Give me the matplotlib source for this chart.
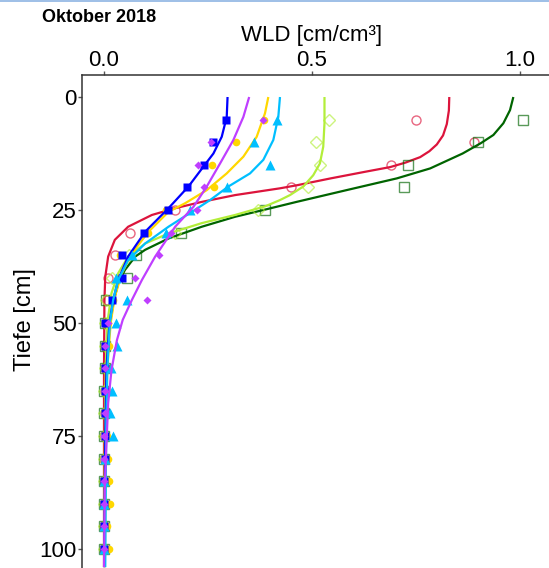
import matplotlib
matplotlib.use("Agg")
import matplotlib.pyplot as plt
from matplotlib.lines import Line2D
import numpy as np

plt.rcParams['font.family'] = ['Liberation Sans', 'DejaVu Sans']

# measured depths (cm)
depth = [5, 10, 15, 20, 25, 30, 35, 40, 45, 50, 55, 60, 65, 70, 75, 80, 85, 90, 95, 100]

# measured WLD per series
red_pts = [0.75, 0.89, 0.69, 0.45, 0.17, 0.063, 0.026, 0.01, 0.007, 0.004, 0.003, 0.002, 0.002, 0.002, 0.001, 0.001, 0.001, 0.001, 0.001, 0.001]
dkgreen_pts = [1.007, 0.90, 0.73, 0.72, 0.387, 0.185, 0.077, 0.055, 0.005, 0.003, 0.002, 0.002, 0.001, 0.001, 0.001, 0.001, 0.001, 0.001, 0.001, 0.001]
ltgreen_pts = [0.54, 0.51, 0.52, 0.49, 0.37, 0.17, 0.06, 0.02, 0.005, 0.003, 0.002, 0.002, 0.001, 0.001, 0.001, 0.001, 0.001, 0.001, 0.001, 0.001]
cyan_pts = [0.415, 0.36, 0.40, 0.295, 0.207, 0.15, 0.067, 0.03, 0.055, 0.03, 0.032, 0.017, 0.02, 0.014, 0.021, 0.002, 0.0, 0.0, 0.0, 0.0]
gold_pts = [0.385, 0.317, 0.26, 0.265, 0.149, 0.106, 0.038, 0.036, 0.022, 0.01, 0.012, 0.008, 0.006, 0.006, 0.006, 0.01, 0.013, 0.014, 0.006, 0.012]
blue_pts = [0.293, 0.262, 0.24, 0.20, 0.153, 0.096, 0.043, 0.043, 0.02, 0.003, 0.003, 0.003, 0.002, 0.002, 0.002, 0.002, 0.001, 0.001, 0.001, 0.001]
purple_pts = [0.383, 0.257, 0.225, 0.24, 0.223, 0.16, 0.132, 0.075, 0.103, 0.01, 0.002, 0.002, 0.003, 0.002, 0.0, 0.001, 0.001, 0.001, 0.0, 0.0]

# fitted curves
red_d = [0, 3, 6, 8.5, 10.5, 12.0, 13.3, 14.5, 15.5, 16.5, 18.0, 19.5, 20.2, 21.7, 23.2, 24.6, 26.1, 28.7, 31.6, 35.3, 39.8, 45, 60, 104]
red_x = [0.830, 0.829, 0.824, 0.815, 0.800, 0.782, 0.760, 0.725, 0.688, 0.630, 0.545, 0.465, 0.423, 0.315, 0.235, 0.171, 0.115, 0.058, 0.026, 0.010, 0.003, 0.001, 0.0, 0.0]
dkg_d = [0, 2.9, 5.8, 8.4, 10.2, 12.5, 15.8, 18.0, 20.6, 23.2, 25, 26.5, 28.7, 31.3, 33.8, 35.3, 38.3, 41.2, 44.9, 50, 60, 75, 104]
dkg_x = [0.984, 0.976, 0.960, 0.936, 0.906, 0.862, 0.784, 0.704, 0.583, 0.463, 0.383, 0.315, 0.235, 0.155, 0.099, 0.075, 0.050, 0.034, 0.024, 0.014, 0.006, 0.003, 0.001]
ltg_d = [0, 5.8, 11, 14.7, 17.3, 19.8, 21.7, 22.8, 24.2, 26.1, 27.9, 30.2, 32.4, 35.3, 39, 43.4, 50, 60, 75, 104]
ltg_x = [0.530, 0.530, 0.527, 0.519, 0.503, 0.479, 0.447, 0.423, 0.387, 0.315, 0.235, 0.155, 0.099, 0.058, 0.034, 0.018, 0.008, 0.004, 0.002, 0.001]
cyan_d = [0, 4.4, 9.5, 13.9, 16.9, 19.8, 22.8, 25.0, 28.7, 32.4, 36.1, 40.5, 44.9, 50, 60, 75, 104]
cyan_x = [0.423, 0.419, 0.407, 0.383, 0.351, 0.299, 0.255, 0.218, 0.155, 0.099, 0.058, 0.034, 0.022, 0.014, 0.008, 0.005, 0.003]
gold_d = [0, 3.6, 8.8, 13.2, 16.9, 20.6, 23.5, 25.4, 29.8, 34.6, 39, 44.2, 50, 60, 75, 104]
gold_x = [0.395, 0.387, 0.367, 0.335, 0.295, 0.247, 0.195, 0.155, 0.107, 0.067, 0.043, 0.026, 0.016, 0.008, 0.004, 0.002]
blue_d = [0, 4.4, 8.8, 12.5, 15.4, 19.8, 24.6, 27.2, 29.8, 35.3, 40.5, 44.9, 50, 60, 75, 104]
blue_x = [0.297, 0.295, 0.283, 0.263, 0.239, 0.203, 0.155, 0.127, 0.099, 0.058, 0.034, 0.022, 0.013, 0.006, 0.003, 0.001]
purple_d = [0, 4.4, 9.5, 14.7, 19.8, 24.3, 28.7, 35.3, 40.5, 44.9, 49.3, 53.8, 60.4, 67.7, 78.8, 86, 104]
purple_x = [0.349, 0.335, 0.311, 0.279, 0.247, 0.215, 0.171, 0.123, 0.091, 0.067, 0.045, 0.031, 0.018, 0.010, 0.005, 0.002, 0.0]

xticks = [0.0, 0.5, 1.0]
xticklabels = ['0.0', '0.5', '1.0']
yticks = [0, 25, 50, 75, 100]

fig = plt.figure(figsize=(5.49, 5.68), dpi=100)
ax = fig.add_axes([82/549, 0, 1 - 82/549, 1 - 75/568])

# drawing order: bottom first
series = [
    (red_pts, red_d, red_x, '#DC143C', 'o', 6.5, False),
    (dkgreen_pts, dkg_d, dkg_x, '#006400', 's', 6.5, False),
    (ltgreen_pts, ltg_d, ltg_x, '#B3EE3A', 'D', 6, False),
    (gold_pts, gold_d, gold_x, '#FFD700', 'o', 5.5, True),
    (blue_pts, blue_d, blue_x, '#0000FF', 's', 5.5, True),
    (cyan_pts, cyan_d, cyan_x, '#00BFFF', '^', 6.5, True),
    (purple_pts, purple_d, purple_x, '#BF3EFF', 'D', 4.2, True),
]

for i, (pts, cd, cx, col, mk, ms, filled) in enumerate(series):
    z = 2 + i * 0.1
    ax.plot(cx, cd, color=col, lw=1.6, zorder=z, solid_capstyle='butt', solid_joinstyle='round')
    if filled:
        ax.plot(pts, depth, ls='none', marker=mk, ms=ms, color=col, mec='none', zorder=z + 0.05)
    else:
        ax.plot(pts, depth, ls='none', marker=mk, ms=ms, mfc='none', mec=col, mew=1.0, alpha=0.65, zorder=z + 0.05)

# left spine at x=82px, 0.0 at 104px, 416 px per unit; depth 0 at 97px, 4.52 px per cm
ax.set_xlim(-0.0529, 1.0697)
ax.set_ylim(104.2, -4.87)
ax.xaxis.set_ticks_position('top')
ax.xaxis.set_label_position('top')
ax.set_xticks(xticks)
ax.set_xticklabels(xticklabels)
ax.set_yticks(yticks)
ax.tick_params(axis='both', labelsize=16, length=2.6, width=1, color='#555555', labelcolor='black')
ax.tick_params(axis='x', pad=0.3)
ax.tick_params(axis='y', pad=1.2)
for s in ['right', 'bottom']:
    ax.spines[s].set_visible(False)
for s in ['left', 'top']:
    ax.spines[s].set_linewidth(1.1)
    ax.spines[s].set_color('#333333')

fig.text(312/549, 1 - 35/568, 'WLD [cm/cm³]', fontsize=16, ha='center', va='center')
fig.text(25/549, 1 - 320/568, 'Tiefe [cm]', rotation=90, fontsize=17, ha='center', va='center')
fig.text(42/549, 1 - 17/568, 'Oktober 2018', fontsize=13, fontweight='bold', ha='left', va='center')

fig.add_artist(Line2D([0, 1], [0.999, 0.999], color='#8EB4E3', lw=1.2, transform=fig.transFigure))

fig.savefig('out.png', dpi=100)
